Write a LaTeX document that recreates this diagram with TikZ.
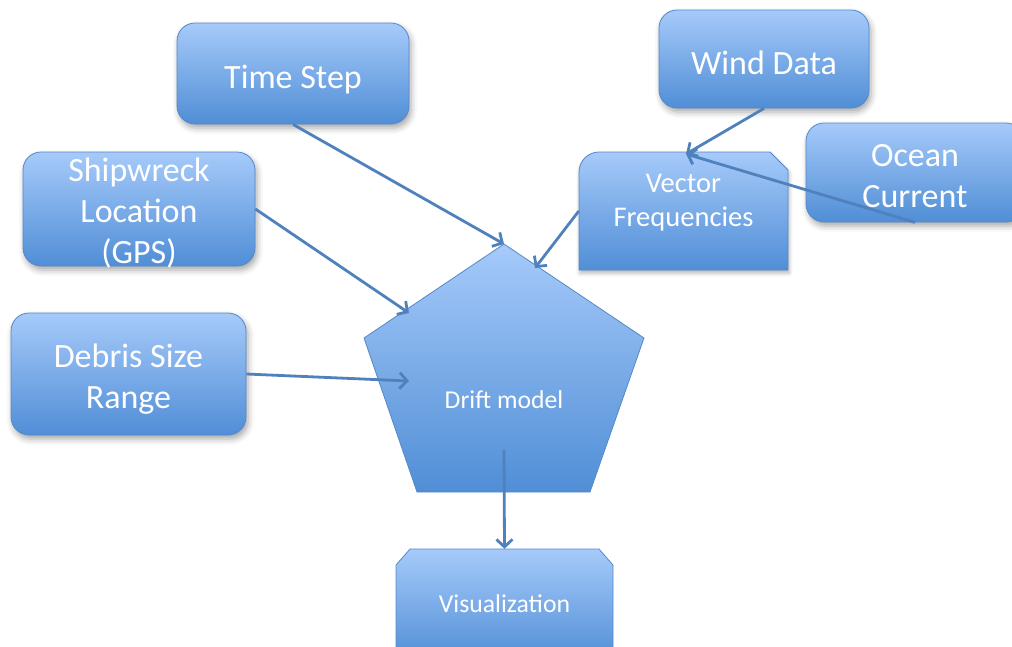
\documentclass[tikz,border=0pt]{standalone}
\usepackage{fontspec}
\setmainfont{Carlito}
\usetikzlibrary{arrows.meta,shadows.blur,calc}
\definecolor{topblue}{RGB}{166,202,250}
\definecolor{botblue}{RGB}{80,142,214}
\definecolor{edgeblue}{RGB}{86,136,200}
\definecolor{arrowblue}{RGB}{79,129,189}
\tikzset{
  boxshade/.style={top color=topblue, bottom color=botblue, draw=edgeblue, line width=0.8pt},
  softshadow/.style={blur shadow={shadow xshift=2pt, shadow yshift=-4pt, shadow blur radius=6pt, shadow opacity=35}},
  roundbox/.style={boxshade, softshadow, rounded corners=18pt, inner sep=0pt},
  label/.style={text=white, align=center, inner sep=0pt},
  bigtext/.style={label, font=\fontsize{34}{41}\selectfont},
  midtext/.style={label, font=\fontsize{28.5}{34}\selectfont},
  smalltext/.style={label, font=\fontsize{25.7}{31}\selectfont},
  conn/.style={draw=arrowblue, line width=2.8pt, -{Straight Barb[length=7.5pt,width=16pt]}}
}
\begin{document}
\begin{tikzpicture}[x=1pt,y=-1pt]
\useasboundingbox (0,0) rectangle (1012,646);
\clip (0,0) rectangle (1012,646);
% rounded boxes
\node[roundbox, minimum width=232pt, minimum height=101pt] (ts) at (293,73.5) {};
\node[bigtext] (tst) at (293,80) {Time Step};
\node[roundbox, minimum width=210pt, minimum height=98pt] (wd) at (764,59) {};
\node[bigtext] (wdt) at (764,63) {Wind Data};
\node[roundbox, minimum width=232pt, minimum height=114pt] (sw) at (139,209) {};
\node[bigtext] (swt) at (139,213) {Shipwreck\\Location\\(GPS)};
\node[roundbox, minimum width=218pt, minimum height=99pt] (oc) at (915,172.5) {};
\node[bigtext] (oct) at (915,176) {Ocean\\Current};
\node[roundbox, minimum width=235pt, minimum height=122pt] (db) at (128.5,374) {};
\node[bigtext] (dbt) at (128.5,379) {Debris Size\\Range};
% vector frequencies (round top-left, snipped top-right)
\path[boxshade, blur shadow={shadow xshift=1pt, shadow yshift=-3pt, shadow blur radius=4pt, shadow opacity=30}]
  (579,270) -- (579,172) .. controls (579,161) and (588,152) .. (599,152) -- (770,152) -- (788,170) -- (788,270) -- cycle;
\node[minimum width=209pt, minimum height=118pt, inner sep=0pt] (vf) at (683.5,211) {};
\node[midtext] (vft) at (683.5,203) {Vector\\Frequencies};
% pentagon
\path[boxshade] (504,244) -- (644,338) -- (590,492) -- (417,492) -- (364,338) -- cycle;
\node[smalltext] (drift) at (504,400) {Drift model};
\coordinate (dtop) at (504,244);
\coordinate (dsw) at (409,313);
\coordinate (ddb) at (409,381);
\coordinate (dvf) at (535,268);
\coordinate (dout) at (504,450);
\coordinate (vfin) at (686,154);
% visualization (snipped top corners)
\path[boxshade] (396,662) -- (396,565) -- (410,549) -- (599,549) -- (613,565) -- (613,662) -- cycle;
\node[minimum width=217pt, minimum height=110pt, inner sep=0pt] (viz) at (504.5,604) {};
\node[smalltext] (vizt) at (504.5,604) {Visualization};
% connectors
\draw[conn] (ts.south) -- (dtop);
\draw[conn] (sw.east) -- (dsw);
\draw[conn] (db.east) -- (ddb);
\draw[conn] (vf.west) -- (dvf);
\draw[conn] (wd.south) -- (vfin);
\draw[conn] (oc.south) -- (vfin);
\draw[conn] (dout) -- (viz.north);
\end{tikzpicture}
\end{document}
